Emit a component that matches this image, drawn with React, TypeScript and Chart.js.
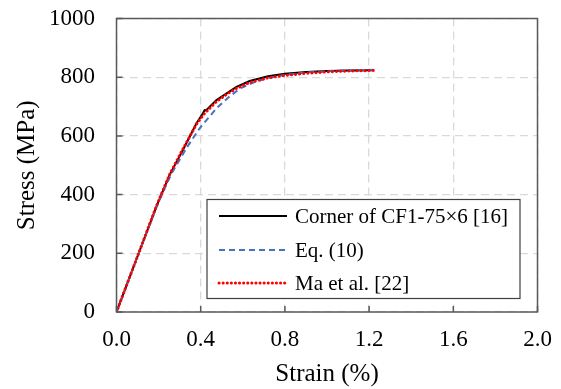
import React, { useEffect, useRef } from "react";
import { Chart, registerables } from "chart.js";

Chart.register(...registerables);

const FONT = '"Liberation Serif", "Times New Roman", serif';

const seriesLabels = ["Corner of CF1-75×6 [16]", "Eq. (10)", "Ma et al. [22]"];

const strainExp = [0, 0.1, 0.19, 0.253, 0.316, 0.38, 0.41, 0.419, 0.425, 0.475, 0.57, 0.633, 0.72, 0.8, 0.9, 1.0, 1.1, 1.22];
const stressExp = [0, 190, 360, 468, 553, 643, 676, 688, 687, 722, 767, 787, 803, 812, 818, 821, 823, 824];

const strainEq = [0, 0.1, 0.2, 0.26, 0.332, 0.395, 0.475, 0.53, 0.585, 0.65, 0.72, 0.8, 0.9, 1.0, 1.1, 1.22];
const stressEq = [0, 190, 375, 470, 558, 626, 694, 730, 761, 782, 797, 808, 816, 820, 823, 825];

const strainMa = [0, 0.1, 0.19, 0.253, 0.316, 0.38, 0.42, 0.475, 0.53, 0.57, 0.633, 0.72, 0.8, 0.9, 1.0, 1.1, 1.22];
const stressMa = [0, 190, 362, 470, 556, 640, 678, 717, 745, 762, 782, 798, 806, 813, 818, 821, 823];

const xTicks = [0, 0.4, 0.8, 1.2, 1.6, 2.0];
const yTicks = [0, 200, 400, 600, 800, 1000];

const toPts = (xs: number[], ys: number[]) => xs.map((x, i) => ({ x, y: ys[i] }));

const styles = [
  { color: "#000000", dash: [] as number[], width: 2, cap: "butt" },
  { color: "#4472c4", dash: [6, 4], width: 2, cap: "butt" },
  { color: "#ff0000", dash: [0.1, 4], width: 3, cap: "round" },
];

const framePlugin = {
  id: "frameAndLegend",
  afterDraw(chart: any) {
    const { ctx, chartArea } = chart;
    const { left, right, top, bottom } = chartArea;
    const xs = chart.scales.x;
    const ys = chart.scales.y;
    ctx.save();
    ctx.strokeStyle = "#595959";
    ctx.lineWidth = 1.5;
    ctx.setLineDash([]);
    ctx.strokeRect(left, top, right - left, bottom - top);
    const tl = 6;
    ctx.beginPath();
    xTicks.forEach((v) => {
      const px = xs.getPixelForValue(v);
      ctx.moveTo(px, bottom);
      ctx.lineTo(px, bottom - tl);
    });
    yTicks.forEach((v) => {
      const py = ys.getPixelForValue(v);
      ctx.moveTo(left, py);
      ctx.lineTo(left + tl, py);
    });
    ctx.stroke();

    // legend
    const bx = 207, by = 199.5, bw = 313, bh = 99;
    ctx.fillStyle = "#ffffff";
    ctx.fillRect(bx, by, bw, bh);
    ctx.strokeStyle = "#404040";
    ctx.lineWidth = 1.2;
    ctx.strokeRect(bx, by, bw, bh);
    const rows = [216, 250, 283];
    ctx.font = `21px ${FONT}`;
    ctx.textBaseline = "middle";
    ctx.textAlign = "left";
    seriesLabels.forEach((lab, i) => {
      const s = styles[i];
      ctx.beginPath();
      ctx.strokeStyle = s.color;
      ctx.lineWidth = s.width;
      ctx.lineCap = s.cap as CanvasLineCap;
      ctx.setLineDash(s.dash);
      ctx.moveTo(219, rows[i]);
      ctx.lineTo(287, rows[i]);
      ctx.stroke();
      ctx.setLineDash([]);
      ctx.lineCap = "butt";
      ctx.fillStyle = "#000000";
      ctx.fillText(lab, 295, rows[i] + 1);
    });
    ctx.restore();
  },
};

export default function App() {
  const ref = useRef<HTMLCanvasElement | null>(null);
  useEffect(() => {
    if (!ref.current) return;
    const seriesData = [toPts(strainExp, stressExp), toPts(strainEq, stressEq), toPts(strainMa, stressMa)];
    const chart = new Chart(ref.current, {
      type: "line",
      data: {
        datasets: seriesData.map((d, i) => ({
          label: seriesLabels[i],
          data: d,
          borderColor: styles[i].color,
          borderWidth: styles[i].width,
          borderDash: styles[i].dash,
          borderCapStyle: styles[i].cap as any,
          pointRadius: 0,
          tension: 0,
          fill: false,
          order: 3 - i,
        })),
      },
      options: {
        animation: false,
        responsive: false,
        parsing: false as any,
        layout: { padding: { left: 0, top: 18.5, right: 23.5, bottom: 0 } },
        plugins: { legend: { display: false }, tooltip: { enabled: false } },
        scales: {
          x: {
            type: "linear",
            min: 0,
            max: 2,
            afterFit: (s: any) => { s.height = 77; s.paddingLeft = 0; s.paddingRight = 0; },
            afterBuildTicks: (s: any) => { s.ticks = xTicks.map((v) => ({ value: v })); },
            ticks: {
              padding: 14,
              color: "#000",
              font: { family: FONT, size: 23 },
              callback: (v: any) => Number(v).toFixed(1),
            },
            grid: { color: "#d9d9d9", lineWidth: 1.3, drawTicks: false },
            border: { display: false, dash: [8, 5] },
            title: { display: true, text: "Strain (%)", color: "#000", font: { family: FONT, size: 25 }, padding: { top: 0, bottom: 0 } },
          },
          y: {
            type: "linear",
            min: 0,
            max: 1000,
            afterFit: (s: any) => { s.width = 116.5; s.paddingTop = 0; s.paddingBottom = 0; },
            afterBuildTicks: (s: any) => { s.ticks = yTicks.map((v) => ({ value: v })); },
            ticks: {
              padding: 21.5,
              color: "#000",
              font: { family: FONT, size: 23 },
              callback: (v: any) => String(v),
            },
            grid: { color: "#d9d9d9", lineWidth: 1.3, drawTicks: false },
            border: { display: false, dash: [8, 5] },
            title: { display: true, text: "Stress (MPa)", color: "#000", font: { family: FONT, size: 25 }, padding: { top: 12, bottom: 0 } },
          },
        },
      },
      plugins: [framePlugin],
    });
    return () => chart.destroy();
  }, []);
  return (
    <div style={{ position: "fixed", left: 0, top: 0, width: 561, height: 389, background: "#fff" }}>
      <canvas ref={ref} width={561} height={389} style={{ display: "block", width: 561, height: 389 }} />
    </div>
  );
}
